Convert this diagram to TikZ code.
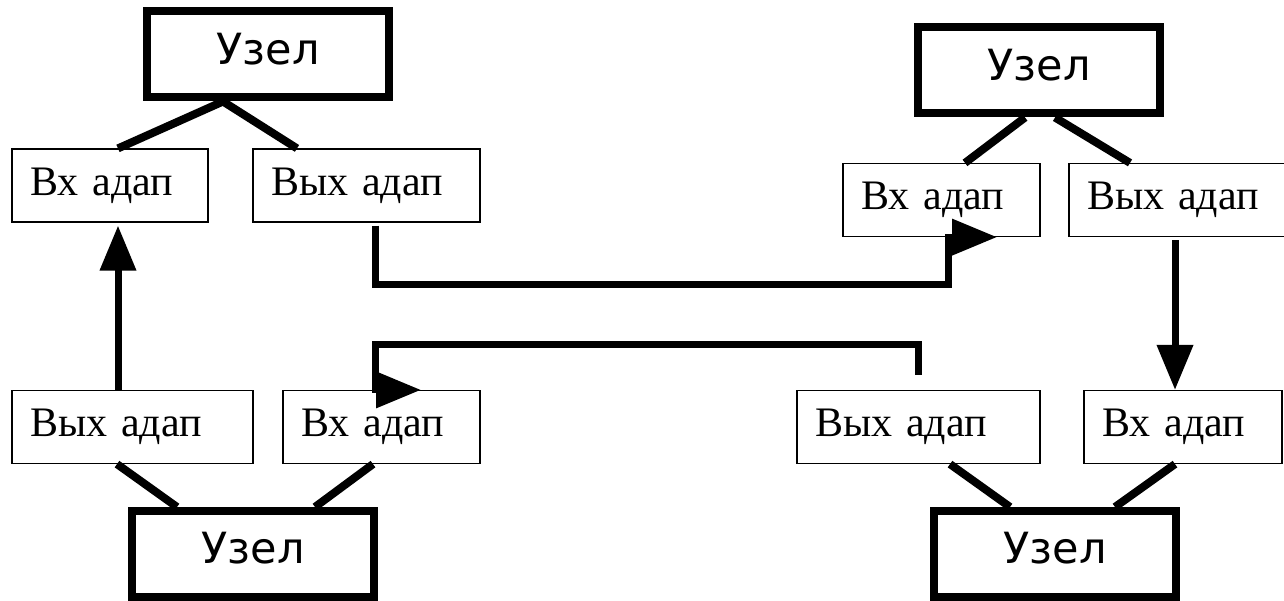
\documentclass[tikz,border=0pt]{standalone}
\usepackage{fontspec}
\setmainfont{Liberation Serif}
\newfontfamily\uzelfont{DejaVu Sans}
\usetikzlibrary{positioning}
\usetikzlibrary{arrows.meta}

\begin{document}
\begin{tikzpicture}[x=1pt,y=-1pt,
  uzel/.style={draw, line width=8pt, minimum width=242pt, minimum height=86pt,
    font={\uzelfont\fontsize{43pt}{50pt}\selectfont}, text depth=12pt},
  adap/.style={draw, line width=1.2pt, minimum height=73pt, inner xsep=18pt,
    align=left, font={\fontsize{42pt}{48pt}\selectfont}},
  link/.style={line width=8pt},
  flow/.style={line width=7pt, -{Triangle[length=45pt,width=35pt]}}]

  \useasboundingbox (0,0) rectangle (1284,601);

  \draw (268,54.5) node[uzel] (uzelA) {Узел};
  \draw (1039,70.5) node[uzel] (uzelB) {Узел};
  \draw (253,554) node[uzel] (uzelC) {Узел};
  \draw (1055,554) node[uzel] (uzelD) {Узел};

  \draw (110,185.5) node[adap, text width=160pt] (vxA) {Вх адап};
  \draw (366.5,185.5) node[adap, text width=191pt] (vyxA) {Вых адап};
  \draw (941.5,200) node[adap, text width=161pt] (vxB) {Вх адап};
  \draw (1179.5,200) node[adap, text width=185pt] (vyxB) {Вых адап};
  \draw (132.5,427) node[adap, text width=205pt] (vyxC) {Вых адап};
  \draw (381.5,427) node[adap, text width=161pt] (vxC) {Вх адап};
  \draw (918.5,427) node[adap, text width=207pt] (vyxD) {Вых адап};
  \draw (1183,427) node[adap, text width=162pt] (vxD) {Вх адап};

  \draw[link] ([xshift=-45pt]uzelA.south) -- ([xshift=8pt]vxA.north);
  \draw[link] ([xshift=-45pt]uzelA.south) -- ([xshift=-69.5pt]vyxA.north);
  \draw[link] ([xshift=-14pt]uzelB.south) -- ([xshift=23.5pt]vxB.north);
  \draw[link] ([xshift=16pt]uzelB.south) -- ([xshift=-49.5pt]vyxB.north);
  \draw[link] ([xshift=-15.5pt]vyxC.south) -- ([xshift=-76pt]uzelC.north);
  \draw[link] ([xshift=-8.5pt]vxC.south) -- ([xshift=62pt]uzelC.north);
  \draw[link] ([xshift=31.5pt]vyxD.south) -- ([xshift=-45pt]uzelD.north);
  \draw[link] ([xshift=-8pt]vxD.south) -- ([xshift=60pt]uzelD.north);

  \draw[flow] ([xshift=-14.5pt]vyxC.north) -- ([xshift=-14.5pt,yshift=-3pt]vyxC.north |- vxA.south);
  \draw[flow] ([xshift=-4.5pt,yshift=-3pt]vyxB.south) -- ([xshift=-4.5pt]vyxB.south |- vxD.north);
  \draw[flow] ([xshift=8.5pt,yshift=-3pt]vyxA.south) -- ++(0,59) -| ([xshift=6.5pt]vxB.south) -- ++(49,0);
  \draw[flow] ([xshift=-0.5pt,yshift=15pt]vyxD.north) -- ++(0,-30) -| ([xshift=-6.5pt]vxC.north) -- ++(46,0);
\end{tikzpicture}
\end{document}
